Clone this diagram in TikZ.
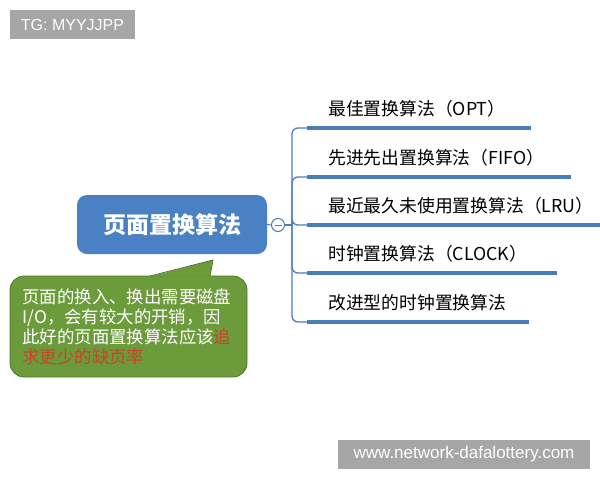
\documentclass[tikz,border=0pt]{standalone}
\usepackage{fontspec}
\setmainfont{Noto Sans CJK SC}
\newfontfamily\wmfont{Liberation Sans}
\usetikzlibrary{calc,positioning}
\definecolor{mapblue}{HTML}{4A80C4}
\definecolor{linkblue}{HTML}{4A7EBB}
\definecolor{notegreen}{HTML}{6B9B3A}
\definecolor{notered}{HTML}{C8442A}
\definecolor{wmgray}{HTML}{A6A6A6}
\tikzset{
    mind map/.style  = {x=1pt, y=-1pt},
    root/.style      = {fill=mapblue, text=white, rounded corners=10pt,
                        minimum width=190pt, minimum height=59pt,
                        font=\fontsize{23}{23}\selectfont\bfseries},
    fold/.style      = {circle, draw=linkblue, fill=white, line width=1pt,
                        minimum size=13pt, inner sep=0pt},
    topic/.style     = {anchor=base west, inner sep=0pt,
                        font=\fontsize{17.8}{17.8}\selectfont},
    bar/.style       = {linkblue, line width=4pt},
    link/.style      = {linkblue, line width=1.3pt, rounded corners=6pt},
    note/.style      = {fill=notegreen, draw=notegreen!75!black, line width=0.8pt,
                        rounded corners=14pt, text=white, align=left,
                        minimum width=237pt, minimum height=101pt,
                        text width=212pt, inner sep=0pt,
                        font=\fontsize{17.4}{20}\selectfont},
    watermark/.style = {fill=wmgray, text=white, inner sep=0pt,
                        minimum height=29pt}
}

\begin{document}
\begin{tikzpicture}[mind map]
\useasboundingbox (0,0) rectangle (600,480);

% ================= Root and fold button =================
\node[root] (root) at (172,224.5) {页面置换算法};
\node[fold] (fold) at (278,225) {};
\draw[linkblue, line width=1pt] ([xshift=-3.5pt]fold.center) -- ([xshift=3.5pt]fold.center);
\draw[linkblue, line width=1pt] (root.east) -- (fold.west);

\coordinate (bus) at (292,225);
\draw[link] (fold.east) -- (bus);

% ================= Branches =================
\foreach \y/\xend/\algname [count=\i] in {
    128/531/最佳置换算法（OPT）,
    177/571/先进先出置换算法（FIFO）,
    225/600/最近最久未使用置换算法（LRU）,
    273/557/时钟置换算法（CLOCK）,
    322/529/改进型的时钟置换算法}
{
    \coordinate (bar\i) at (307,\y);
    \coordinate (barend\i) at (\xend,\y);
    \node[topic] (alg\i) at (328,\y-13) {\algname};
    \draw[link] (bus) |- (bar\i);
    \draw[bar] (bar\i) -- (barend\i);
}

% ================= Callout note =================
\node[note] (note) at (128.5,326.5) {页面的换入、换出需要磁盘\\
    I/O，会有较大的开销，因\\
    此好的页面置换算法应该{\color{notered}追}\\
    {\color{notered}求更少的缺页率}};
\coordinate (tip) at (213,260);
\fill[notegreen] (150,276.6) -- (tip) -- (210,276.6) -- cycle;
\draw[notegreen!75!black, line width=0.8pt] (150,276) -- (tip) -- (210,276);

% ================= Watermarks =================
\node[watermark, minimum width=125pt, font=\wmfont\fontsize{16}{16}\selectfont]
    (tag) at (72.5,24.5) {TG: MYYJJPP};
\node[watermark, minimum width=252pt, font=\wmfont\fontsize{17}{17}\selectfont]
    (site) at (464,454.5) {www.network-dafalottery.com};

\end{tikzpicture}
\end{document}
